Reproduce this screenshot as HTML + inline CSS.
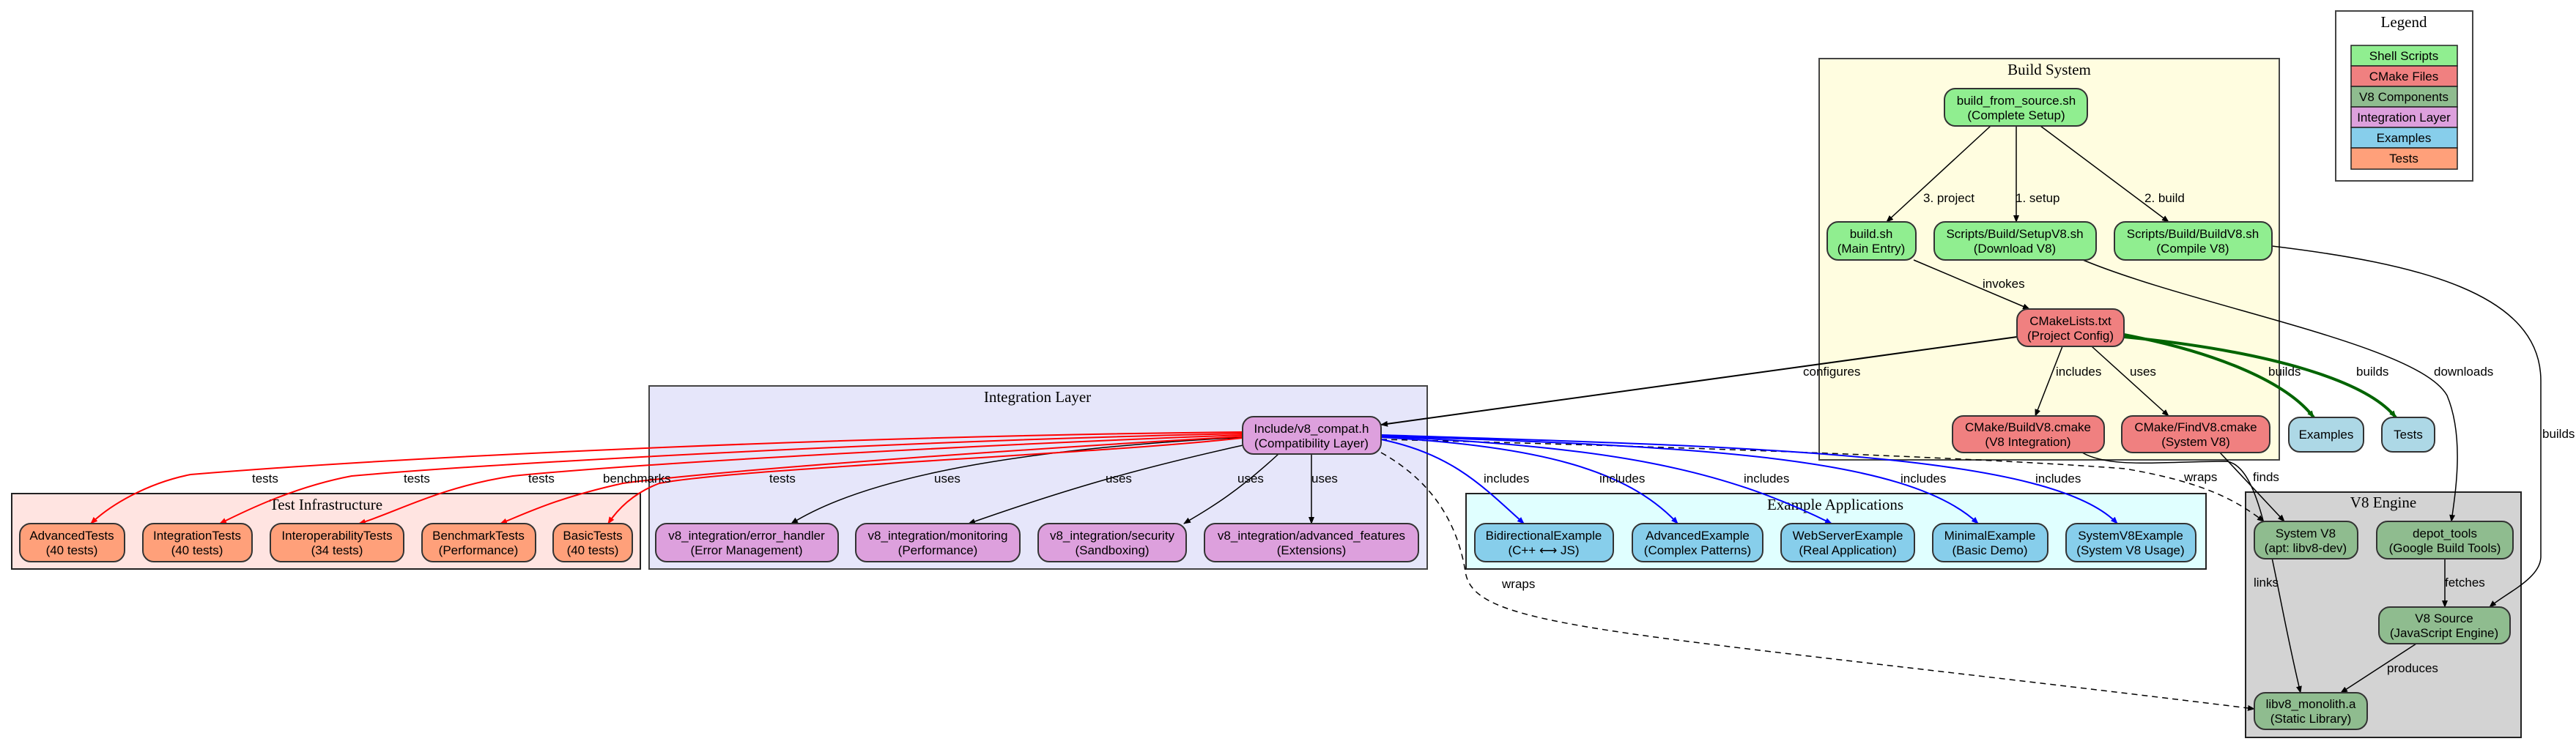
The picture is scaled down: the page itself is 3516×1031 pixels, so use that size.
<!DOCTYPE html>
<html><head><meta charset="utf-8"><style>
html,body{margin:0;padding:0;background:#fff;}
svg{display:block;}
.n{font-family:"Liberation Sans",sans-serif;font-size:17px;text-anchor:middle;fill:#000;}
.l{font-family:"Liberation Sans",sans-serif;font-size:17px;fill:#000;}
.c{font-family:"Liberation Serif",serif;font-size:21px;text-anchor:middle;fill:#000;}
rect.nd{stroke:#333;stroke-width:2;}
</style></head><body>
<svg width="3516" height="1031" viewBox="0 0 3516 1031" xmlns="http://www.w3.org/2000/svg">
<defs>
<marker id="ak" markerWidth="10" markerHeight="8" refX="9" refY="4" orient="auto" markerUnits="userSpaceOnUse"><path d="M0,0 L10,4 L0,8z" fill="#000"/></marker>
<marker id="ar" markerWidth="10" markerHeight="8" refX="9" refY="4" orient="auto" markerUnits="userSpaceOnUse"><path d="M0,0 L10,4 L0,8z" fill="red"/></marker>
<marker id="ab" markerWidth="10" markerHeight="8" refX="9" refY="4" orient="auto" markerUnits="userSpaceOnUse"><path d="M0,0 L10,4 L0,8z" fill="blue"/></marker>
<marker id="ag" markerWidth="10" markerHeight="8" refX="9" refY="4" orient="auto" markerUnits="userSpaceOnUse"><path d="M0,0 L10,4 L0,8z" fill="#006400"/></marker>
</defs>
<!-- clusters -->
<rect x="2483" y="80" width="628" height="548" fill="#fffde0" stroke="#444" stroke-width="2"/>
<text class="c" x="2797" y="102">Build System</text>
<rect x="886" y="527" width="1062" height="250" fill="#e6e6fa" stroke="#444" stroke-width="2"/>
<text class="c" x="1416" y="549">Integration Layer</text>
<rect x="16" y="674" width="858" height="103" fill="#ffe4e1" stroke="#222" stroke-width="2"/>
<text class="c" x="445" y="696">Test Infrastructure</text>
<rect x="2001" y="674" width="1010" height="103" fill="#e0ffff" stroke="#222" stroke-width="2"/>
<text class="c" x="2505" y="696">Example Applications</text>
<rect x="3065" y="672" width="376" height="335" fill="#d3d3d3" stroke="#222" stroke-width="2"/>
<text class="c" x="3253" y="693">V8 Engine</text>
<!-- legend -->
<rect x="3188" y="15" width="187" height="232" fill="#fff" stroke="#444" stroke-width="2"/>
<text class="c" x="3281" y="37">Legend</text>
<g stroke="#222" stroke-width="1.5">
<rect x="3209" y="62" width="145" height="28" fill="#90ee90"/>
<rect x="3209" y="90" width="145" height="28" fill="#f08080"/>
<rect x="3209" y="118" width="145" height="28" fill="#8fbc8f"/>
<rect x="3209" y="146" width="145" height="28" fill="#dda0dd"/>
<rect x="3209" y="174" width="145" height="28" fill="#87ceeb"/>
<rect x="3209" y="202" width="145" height="29" fill="#ffa07a"/>
</g>
<text class="n" x="3281" y="82">Shell Scripts</text>
<text class="n" x="3281" y="110">CMake Files</text>
<text class="n" x="3281" y="138">V8 Components</text>
<text class="n" x="3281" y="166">Integration Layer</text>
<text class="n" x="3281" y="194">Examples</text>
<text class="n" x="3281" y="222">Tests</text>
<!-- edges black -->
<g fill="none" stroke="#000" stroke-width="1.5" marker-end="url(#ak)">
<path d="M2717,172 L2575,303"/>
<path d="M2752,172 L2752,303"/>
<path d="M2785,172 L2960,303"/>
<path d="M2612,355 L2770,422"/>
<path d="M2753,460 L1885,580" stroke-width="2"/>
<path d="M2815,473 L2778,568"/>
<path d="M2855,473 L2960,568"/>
<path d="M2843,355 C3000,420 3300,470 3340,540 C3365,600 3350,680 3346,712"/>
<path d="M3101,336 C3300,360 3468,400 3468,520 L3468,760 C3468,790 3420,810 3398,829"/>
<path d="M2842,618 C2880,640 2950,630 3040,630 C3090,640 3100,780 3140,946"/>
<path d="M3030,618 L3118,712"/>
<path d="M3337,763 L3337,829"/>
<path d="M3298,879 L3195,946"/>
<path d="M1700,597 C1450,610 1200,640 1080,715"/>
<path d="M1710,605 C1550,640 1450,670 1322,715"/>
<path d="M1745,620 C1680,680 1640,700 1616,715"/>
<path d="M1790,620 L1790,715"/>
</g>
<g fill="none" stroke="#000" stroke-width="1.5" stroke-dasharray="8,6" marker-end="url(#ak)">
<path d="M1885,618 C1960,660 1990,720 2000,780 C2010,860 2200,860 3077,968"/>
<path d="M1885,600 C2300,610 2700,625 2900,640 C3020,660 3060,690 3090,712"/>
</g>
<!-- green -->
<g fill="none" stroke="#006400" stroke-width="4" marker-end="url(#ag)">
<path d="M2899,457 C3020,480 3120,520 3158,570"/>
<path d="M2899,460 C3100,480 3230,520 3270,570"/>
</g>
<!-- blue -->
<g fill="none" stroke="blue" stroke-width="2" marker-end="url(#ab)">
<path d="M1885,600 C1980,620 2020,660 2080,715"/>
<path d="M1885,597 C2100,610 2220,640 2290,715"/>
<path d="M1885,596 C2200,610 2350,640 2500,715"/>
<path d="M1885,595 C2300,610 2600,620 2700,715"/>
<path d="M1885,594 C2400,610 2800,620 2890,715"/>
</g>
<!-- red -->
<g fill="none" stroke="red" stroke-width="2" marker-end="url(#ar)">
<path d="M1696,590 C1200,595 600,620 260,648 C200,660 150,690 124,715"/>
<path d="M1696,592 C1300,600 700,630 480,650 C400,665 330,700 300,715"/>
<path d="M1696,594 C1400,605 900,630 700,650 C600,665 540,700 490,715"/>
<path d="M1696,596 C1450,610 1000,640 850,660 C760,680 720,700 683,715"/>
<path d="M1696,598 C1500,620 1000,640 900,660 C860,675 840,700 830,715"/>
</g>
<!-- edge labels -->
<g class="l">
<text x="2625" y="276">3. project</text>
<text x="2751" y="276">1. setup</text>
<text x="2927" y="276">2. build</text>
<text x="2706" y="393">invokes</text>
<text x="2461" y="513">configures</text>
<text x="2806" y="513">includes</text>
<text x="2907" y="513">uses</text>
<text x="3096" y="513">builds</text>
<text x="3216" y="513">builds</text>
<text x="3322" y="513">downloads</text>
<text x="3470" y="598">builds</text>
<text x="2981" y="657">wraps</text>
<text x="3075" y="657">finds</text>
<text x="3076" y="801">links</text>
<text x="3337" y="801">fetches</text>
<text x="3258" y="918">produces</text>
<text x="2050" y="803">wraps</text>
<text x="2025" y="659">includes</text>
<text x="2183" y="659">includes</text>
<text x="2380" y="659">includes</text>
<text x="2594" y="659">includes</text>
<text x="2778" y="659">includes</text>
<text x="1275" y="659">uses</text>
<text x="1509" y="659">uses</text>
<text x="1689" y="659">uses</text>
<text x="1790" y="659">uses</text>
<text x="1050" y="659">tests</text>
<text x="344" y="659">tests</text>
<text x="551" y="659">tests</text>
<text x="721" y="659">tests</text>
<text x="823" y="659">benchmarks</text>
</g>
<!-- nodes -->
<g>
<rect class="nd" x="2654" y="121" width="195" height="51" rx="15" fill="#90ee90"/>
<text class="n" x="2752" y="143">build_from_source.sh</text><text class="n" x="2752" y="163">(Complete Setup)</text>
<rect class="nd" x="2494" y="303" width="121" height="52" rx="15" fill="#90ee90"/>
<text class="n" x="2554" y="325">build.sh</text><text class="n" x="2554" y="345">(Main Entry)</text>
<rect class="nd" x="2640" y="303" width="221" height="52" rx="15" fill="#90ee90"/>
<text class="n" x="2750" y="325">Scripts/Build/SetupV8.sh</text><text class="n" x="2750" y="345">(Download V8)</text>
<rect class="nd" x="2886" y="303" width="215" height="52" rx="15" fill="#90ee90"/>
<text class="n" x="2993" y="325">Scripts/Build/BuildV8.sh</text><text class="n" x="2993" y="345">(Compile V8)</text>
<rect class="nd" x="2753" y="422" width="146" height="51" rx="15" fill="#f08080"/>
<text class="n" x="2826" y="444">CMakeLists.txt</text><text class="n" x="2826" y="464">(Project Config)</text>
<rect class="nd" x="2665" y="568" width="207" height="50" rx="15" fill="#f08080"/>
<text class="n" x="2768" y="589">CMake/BuildV8.cmake</text><text class="n" x="2768" y="609">(V8 Integration)</text>
<rect class="nd" x="2896" y="568" width="202" height="50" rx="15" fill="#f08080"/>
<text class="n" x="2997" y="589">CMake/FindV8.cmake</text><text class="n" x="2997" y="609">(System V8)</text>
<rect class="nd" x="3124" y="570" width="102" height="47" rx="15" fill="#add8e6"/>
<text class="n" x="3175" y="599">Examples</text>
<rect class="nd" x="3251" y="570" width="72" height="47" rx="15" fill="#add8e6"/>
<text class="n" x="3287" y="599">Tests</text>
<rect class="nd" x="3077" y="712" width="141" height="51" rx="15" fill="#8fbc8f"/>
<text class="n" x="3147" y="734">System V8</text><text class="n" x="3147" y="754">(apt: libv8-dev)</text>
<rect class="nd" x="3244" y="712" width="186" height="51" rx="15" fill="#8fbc8f"/>
<text class="n" x="3337" y="734">depot_tools</text><text class="n" x="3337" y="754">(Google Build Tools)</text>
<rect class="nd" x="3247" y="829" width="179" height="50" rx="15" fill="#8fbc8f"/>
<text class="n" x="3336" y="850">V8 Source</text><text class="n" x="3336" y="870">(JavaScript Engine)</text>
<rect class="nd" x="3077" y="946" width="154" height="50" rx="15" fill="#8fbc8f"/>
<text class="n" x="3154" y="967">libv8_monolith.a</text><text class="n" x="3154" y="987">(Static Library)</text>
<rect class="nd" x="2013" y="715" width="189" height="52" rx="15" fill="#87ceeb"/>
<text class="n" x="2107" y="737">BidirectionalExample</text><text class="n" x="2107" y="757">(C++ ⟷ JS)</text>
<rect class="nd" x="2228" y="715" width="178" height="52" rx="15" fill="#87ceeb"/>
<text class="n" x="2317" y="737">AdvancedExample</text><text class="n" x="2317" y="757">(Complex Patterns)</text>
<rect class="nd" x="2431" y="715" width="182" height="52" rx="15" fill="#87ceeb"/>
<text class="n" x="2522" y="737">WebServerExample</text><text class="n" x="2522" y="757">(Real Application)</text>
<rect class="nd" x="2638" y="715" width="157" height="52" rx="15" fill="#87ceeb"/>
<text class="n" x="2716" y="737">MinimalExample</text><text class="n" x="2716" y="757">(Basic Demo)</text>
<rect class="nd" x="2820" y="715" width="177" height="52" rx="15" fill="#87ceeb"/>
<text class="n" x="2908" y="737">SystemV8Example</text><text class="n" x="2908" y="757">(System V8 Usage)</text>
<rect class="nd" x="1696" y="569" width="189" height="51" rx="15" fill="#dda0dd"/>
<text class="n" x="1790" y="591">Include/v8_compat.h</text><text class="n" x="1790" y="611">(Compatibility Layer)</text>
<rect class="nd" x="895" y="715" width="249" height="52" rx="15" fill="#dda0dd"/>
<text class="n" x="1019" y="737">v8_integration/error_handler</text><text class="n" x="1019" y="757">(Error Management)</text>
<rect class="nd" x="1168" y="715" width="224" height="52" rx="15" fill="#dda0dd"/>
<text class="n" x="1280" y="737">v8_integration/monitoring</text><text class="n" x="1280" y="757">(Performance)</text>
<rect class="nd" x="1417" y="715" width="202" height="52" rx="15" fill="#dda0dd"/>
<text class="n" x="1518" y="737">v8_integration/security</text><text class="n" x="1518" y="757">(Sandboxing)</text>
<rect class="nd" x="1644" y="715" width="292" height="52" rx="15" fill="#dda0dd"/>
<text class="n" x="1790" y="737">v8_integration/advanced_features</text><text class="n" x="1790" y="757">(Extensions)</text>
<rect class="nd" x="27" y="715" width="143" height="52" rx="15" fill="#ffa07a"/>
<text class="n" x="98" y="737">AdvancedTests</text><text class="n" x="98" y="757">(40 tests)</text>
<rect class="nd" x="195" y="715" width="149" height="52" rx="15" fill="#ffa07a"/>
<text class="n" x="269" y="737">IntegrationTests</text><text class="n" x="269" y="757">(40 tests)</text>
<rect class="nd" x="369" y="715" width="182" height="52" rx="15" fill="#ffa07a"/>
<text class="n" x="460" y="737">InteroperabilityTests</text><text class="n" x="460" y="757">(34 tests)</text>
<rect class="nd" x="576" y="715" width="155" height="52" rx="15" fill="#ffa07a"/>
<text class="n" x="653" y="737">BenchmarkTests</text><text class="n" x="653" y="757">(Performance)</text>
<rect class="nd" x="755" y="715" width="108" height="52" rx="15" fill="#ffa07a"/>
<text class="n" x="809" y="737">BasicTests</text><text class="n" x="809" y="757">(40 tests)</text>
</g>
</svg>
</body></html>
